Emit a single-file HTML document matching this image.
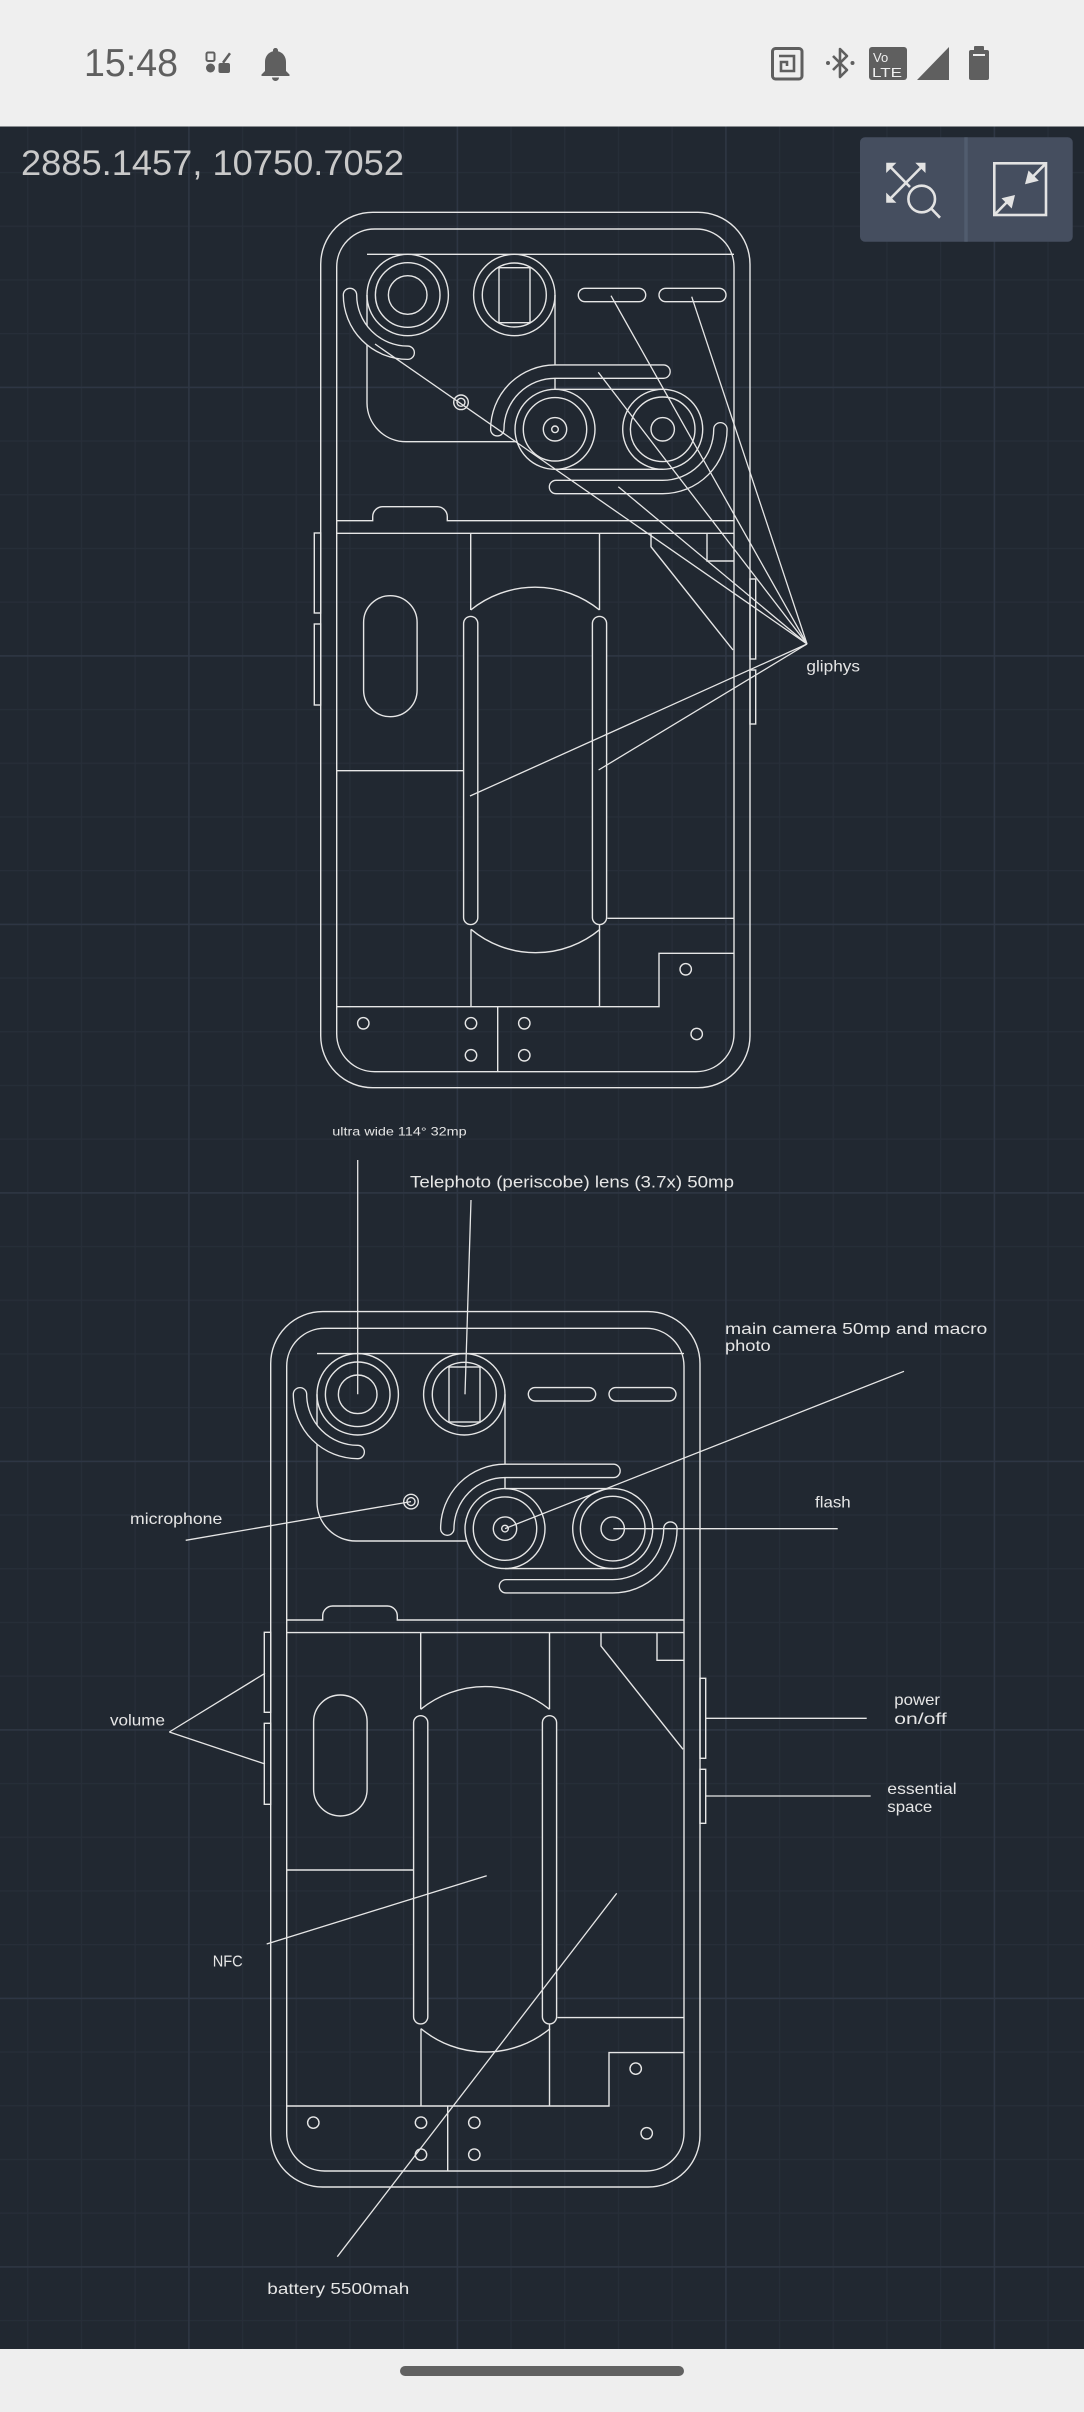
<!DOCTYPE html>
<html>
<head>
<meta charset="utf-8">
<style>
  html,body{margin:0;padding:0;background:#212831;}
  svg{display:block;}
  text{font-family:"Liberation Sans",sans-serif;}
</style>
</head>
<body>
<svg width="1084" height="2412" viewBox="0 0 1084 2412" xmlns="http://www.w3.org/2000/svg">
  <defs>
    <pattern id="minor" x="27.1" y="10.8" width="53.7" height="53.7" patternUnits="userSpaceOnUse">
      <rect x="0" y="0" width="1.2" height="53.7" fill="#272e39"/>
      <rect x="0" y="0" width="53.7" height="1.2" fill="#272e39"/>
    </pattern>
    <pattern id="major" x="188.2" y="118.2" width="268.5" height="268.5" patternUnits="userSpaceOnUse">
      <rect x="0" y="0" width="1.4" height="268.5" fill="#2f3744"/>
      <rect x="0" y="0" width="268.5" height="1.4" fill="#2f3744"/>
    </pattern>

    <g id="phone" fill="none" stroke="#e6e6e6" stroke-width="1.4">
      <!-- outer / inner body -->
      <rect x="320.7" y="212.3" width="429.3" height="875.4" rx="52"/>
      <rect x="336.7" y="229" width="397.3" height="842.7" rx="38"/>
      <!-- side buttons -->
      <rect x="314.3" y="533" width="6.4" height="80"/>
      <rect x="314.3" y="624" width="6.4" height="81"/>
      <rect x="750" y="579" width="5.7" height="80"/>
      <rect x="750" y="670" width="5.7" height="54"/>

      <!-- camera box -->
      <line x1="367" y1="254.3" x2="734" y2="254.3"/>
      <path d="M367,295 V403 A39,39 0 0 0 406,441.7 H516.9"/>
      <line x1="555" y1="295" x2="555" y2="389.3"/>

      <!-- slots (outlined via double stroke) -->
      <g stroke-linecap="round">
        <path d="M350,295 A57.7,57.7 0 0 0 407.7,352.7" stroke="#e6e6e6" stroke-width="14.7"/>
        <path d="M350,295 A57.7,57.7 0 0 0 407.7,352.7" stroke="#212831" stroke-width="12"/>
        <path d="M497.3,429.3 A57.7,57.7 0 0 1 555,371.6 L663.5,371.6" stroke="#e6e6e6" stroke-width="14.7"/>
        <path d="M497.3,429.3 A57.7,57.7 0 0 1 555,371.6 L663.5,371.6" stroke="#212831" stroke-width="12"/>
        <path d="M720.4,429.3 A57.7,57.7 0 0 1 662.7,487 L556,487" stroke="#e6e6e6" stroke-width="14.7"/>
        <path d="M720.4,429.3 A57.7,57.7 0 0 1 662.7,487 L556,487" stroke="#212831" stroke-width="12"/>
        <!-- vertical slots -->
        <line x1="470.7" y1="623.5" x2="470.7" y2="917.5" stroke="#e6e6e6" stroke-width="15.6"/>
        <line x1="470.7" y1="623.5" x2="470.7" y2="917.5" stroke="#212831" stroke-width="12.8"/>
        <line x1="599.5" y1="623.5" x2="599.5" y2="917.5" stroke="#e6e6e6" stroke-width="15.6"/>
        <line x1="599.5" y1="623.5" x2="599.5" y2="917.5" stroke="#212831" stroke-width="12.8"/>
      </g>

      <!-- cameras -->
      <circle cx="407.7" cy="295" r="40.7"/>
      <circle cx="407.7" cy="295" r="32.3"/>
      <circle cx="407.7" cy="295" r="19.3"/>
      <circle cx="514.3" cy="295" r="40.7"/>
      <circle cx="514.3" cy="295" r="32"/>
      <rect x="499" y="267.7" width="31" height="55"/>
      <circle cx="555" cy="429.3" r="40"/>
      <circle cx="555" cy="429.3" r="31.7"/>
      <circle cx="555" cy="429.3" r="11.7"/>
      <circle cx="555" cy="429.3" r="3.3"/>
      <circle cx="662.7" cy="429.3" r="40"/>
      <circle cx="662.7" cy="429.3" r="32.3"/>
      <circle cx="662.7" cy="429.3" r="11.7"/>
      <line x1="555" y1="389.3" x2="662.7" y2="389.3"/>
      <line x1="555" y1="469.3" x2="662.7" y2="469.3"/>
      <!-- microphone -->
      <circle cx="461" cy="402.3" r="7.3"/>
      <circle cx="461" cy="402.3" r="4"/>
      <!-- top pills -->
      <rect x="578.3" y="288.3" width="67.4" height="13.4" rx="6.7"/>
      <rect x="659" y="288.3" width="67" height="13.4" rx="6.7"/>

      <!-- notch lines -->
      <path d="M336.7,520.7 H372.7 V516.7 A10,10 0 0 1 382.7,506.7 H437.3 A10,10 0 0 1 447.3,516.7 V520.7 H734"/>
      <line x1="336.7" y1="533.3" x2="734" y2="533.3"/>

      <!-- battery area -->
      <line x1="470.7" y1="533.3" x2="470.7" y2="610"/>
      <line x1="599.5" y1="533.3" x2="599.5" y2="610"/>
      <path d="M470.7,610 A102.4,102.4 0 0 1 599.5,610"/>
      <path d="M471,929.3 A100.6,100.6 0 0 0 600,929.3"/>
      <line x1="471" y1="929.3" x2="471" y2="1006.7"/>
      <line x1="599.5" y1="925" x2="599.5" y2="1006.7"/>
      <rect x="363.6" y="595.7" width="53.5" height="121" rx="26.75"/>
      <line x1="336.7" y1="770.7" x2="463.3" y2="770.7"/>

      <!-- right area -->
      <path d="M707,533.3 V561 H734"/>
      <path d="M651,533.3 V546.7 L733,650"/>
      <line x1="607.4" y1="918.3" x2="734" y2="918.3"/>
      <path d="M734,953.3 H659 V1006.7 H336.7"/>
      <line x1="497.7" y1="1006.7" x2="497.7" y2="1071.7"/>

      <!-- holes -->
      <circle cx="363.3" cy="1023.3" r="5.7"/>
      <circle cx="471" cy="1023.3" r="5.7"/>
      <circle cx="524.3" cy="1023.3" r="5.7"/>
      <circle cx="471" cy="1055.3" r="5.7"/>
      <circle cx="524.3" cy="1055.3" r="5.7"/>
      <circle cx="685.7" cy="969.3" r="5.7"/>
      <circle cx="696.7" cy="1034" r="5.7"/>
    </g>
  </defs>

  <!-- backgrounds -->
  <rect x="0" y="0" width="1084" height="2412" fill="#212831"/>
  <rect x="0" y="126.5" width="1084" height="2223" fill="url(#minor)"/>
  <rect x="0" y="126.5" width="1084" height="2223" fill="url(#major)"/>

  <!-- status bar -->
  <rect x="0" y="0" width="1084" height="126.5" fill="#efefef"/>
  <text x="84" y="76" font-size="39" fill="#5f5f5f" textLength="94" lengthAdjust="spacingAndGlyphs">15:48</text>
  <g fill="#5f5f5f">
    <rect x="206.5" y="52.5" width="8" height="8.5" rx="1.5" fill="none" stroke="#5f5f5f" stroke-width="2"/>
    <path d="M222,62 L229,52.5 L231,54 L224,63.5Z"/>
    <circle cx="210.5" cy="68" r="4.5"/>
    <rect x="218.5" y="63" width="11.5" height="10" rx="2"/>
    <path d="M275.5,48 c-1.5,0 -2.5,1 -2.5,2.5 v0.8 c-5,1.2 -8,5.5 -8,10.7 v9 l-3.5,3.5 v1.5 h28 v-1.5 l-3.5,-3.5 v-9 c0,-5.2 -3,-9.5 -8,-10.7 v-0.8 c0,-1.5 -1,-2.5 -2.5,-2.5z"/>
    <path d="M272,77.5 h7 a3.5,3.5 0 0 1 -7,0z"/>
    <rect x="772.5" y="48.5" width="29.5" height="30.5" rx="3" fill="none" stroke="#5f5f5f" stroke-width="3"/>
    <path d="M779,56 H794 V71 H781 V62 H787 V66" fill="none" stroke="#5f5f5f" stroke-width="2.6"/>
    <path d="M833,56 L847,70 L840,77 V49 L847,56 L833,70" fill="none" stroke="#5f5f5f" stroke-width="2.6" stroke-linejoin="round"/>
    <circle cx="828" cy="63" r="2"/>
    <circle cx="852.5" cy="63" r="2"/>
    <rect x="869" y="47" width="38" height="33" rx="3"/>
    <text x="873" y="62" font-size="13" fill="#efefef">Vo</text>
    <text x="872" y="77" font-size="13" fill="#efefef" textLength="30" lengthAdjust="spacingAndGlyphs">LTE</text>
    <polygon points="917,80 949,80 949,47"/>
    <rect x="974" y="46" width="10" height="5" rx="1"/>
    <rect x="969" y="50" width="20" height="30" rx="2"/>
    <rect x="973" y="54" width="12" height="2" fill="#efefef"/>
  </g>

  <!-- coordinates -->
  <text x="21" y="175" font-size="35" fill="#c9c9c9" textLength="383" lengthAdjust="spacingAndGlyphs">2885.1457, 10750.7052</text>

  <!-- buttons panel -->
  <rect x="860" y="137.3" width="212.7" height="104.4" rx="5" fill="#454e5f"/>
  <rect x="964.3" y="137.3" width="3.4" height="104.4" fill="#515c6e"/>
  <g stroke="#e3e3e3" stroke-width="2.6" fill="none">
    <line x1="887.5" y1="164" x2="910" y2="187"/>
    <line x1="924.5" y1="164" x2="887.5" y2="201.5"/>
    <circle cx="921.7" cy="199" r="13.3"/>
    <line x1="931.2" y1="208.5" x2="940" y2="217.7"/>
    <rect x="994.3" y="163.3" width="51.7" height="51.7"/>
    <line x1="1045" y1="164.3" x2="1030" y2="179.5"/>
    <line x1="995.3" y1="214" x2="1009" y2="200"/>
  </g>
  <g fill="#e3e3e3">
    <polygon points="886.2,162.8 886.2,173 896.4,162.8"/>
    <polygon points="925.5,162.8 915.3,162.8 925.5,173"/>
    <polygon points="886.2,202.8 886.2,192.6 896.4,202.8"/>
    <polygon points="1025,184.3 1028.5,170.5 1038.8,180.8"/>
    <polygon points="1015,195 1001.5,198.3 1011.7,208.5"/>
  </g>

  <!-- top phone -->
  <use href="#phone"/>
  <g stroke="#e6e6e6" stroke-width="1.3" fill="none">
    <line x1="375" y1="344" x2="807" y2="644"/>
    <line x1="618.3" y1="486.7" x2="807" y2="644"/>
    <line x1="598.3" y1="372.3" x2="807" y2="644"/>
    <line x1="611" y1="295.7" x2="807" y2="644"/>
    <line x1="691.7" y1="296.7" x2="807" y2="644"/>
    <line x1="470" y1="796" x2="807" y2="644"/>
    <line x1="598.6" y1="770" x2="807" y2="644"/>
  </g>
  <g fill="#e6e6e6" font-size="16">
    <text x="806.4" y="671.7" textLength="53.6" lengthAdjust="spacingAndGlyphs">gliphys</text>
  </g>

  <!-- bottom phone -->
  <use href="#phone" transform="translate(-50,1099.3)"/>
  <g stroke="#e6e6e6" stroke-width="1.3" fill="none">
    <line x1="357.7" y1="1160" x2="357.7" y2="1394.3"/>
    <line x1="471" y1="1200" x2="465" y2="1394.3"/>
    <line x1="904" y1="1371.3" x2="505" y2="1528.6"/>
    <line x1="613.3" y1="1528.7" x2="837.7" y2="1528.7"/>
    <line x1="185.7" y1="1540.3" x2="411" y2="1501.6"/>
    <line x1="169.3" y1="1732" x2="265" y2="1673.3"/>
    <line x1="169.3" y1="1732" x2="265" y2="1764"/>
    <line x1="705.7" y1="1718.3" x2="866.7" y2="1718.3"/>
    <line x1="705.7" y1="1796" x2="870.7" y2="1796"/>
    <line x1="266.7" y1="1944" x2="486.7" y2="1875.7"/>
    <line x1="337.3" y1="2256.7" x2="616.7" y2="1893.3"/>
  </g>
  <g fill="#e6e6e6" font-size="16">
    <text x="332.3" y="1135.5" font-size="12" textLength="134.4" lengthAdjust="spacingAndGlyphs">ultra wide 114° 32mp</text>
    <text x="410" y="1187.5" font-size="17" textLength="324" lengthAdjust="spacingAndGlyphs">Telephoto (periscobe) lens (3.7x) 50mp</text>
    <text x="725" y="1334" textLength="262.3" lengthAdjust="spacingAndGlyphs">main camera 50mp and macro</text>
    <text x="725" y="1351" textLength="45.7" lengthAdjust="spacingAndGlyphs">photo</text>
    <text x="815" y="1507.3" textLength="35.7" lengthAdjust="spacingAndGlyphs">flash</text>
    <text x="130" y="1524" textLength="92.3" lengthAdjust="spacingAndGlyphs">microphone</text>
    <text x="110" y="1725.7" textLength="55" lengthAdjust="spacingAndGlyphs">volume</text>
    <text x="894.3" y="1705" textLength="45.7" lengthAdjust="spacingAndGlyphs">power</text>
    <text x="894.3" y="1724" textLength="52.4" lengthAdjust="spacingAndGlyphs">on/off</text>
    <text x="887.3" y="1794" textLength="69.4" lengthAdjust="spacingAndGlyphs">essential</text>
    <text x="887.3" y="1812" textLength="45" lengthAdjust="spacingAndGlyphs">space</text>
    <text x="212.7" y="1966.7" textLength="30" lengthAdjust="spacingAndGlyphs">NFC</text>
    <text x="267.3" y="2294" textLength="142" lengthAdjust="spacingAndGlyphs">battery 5500mah</text>
  </g>

  <!-- nav bar -->
  <rect x="0" y="2349" width="1084" height="63" fill="#eeeeee"/>
  <rect x="400" y="2366" width="284" height="10" rx="5" fill="#616161"/>
</svg>
</body>
</html>
